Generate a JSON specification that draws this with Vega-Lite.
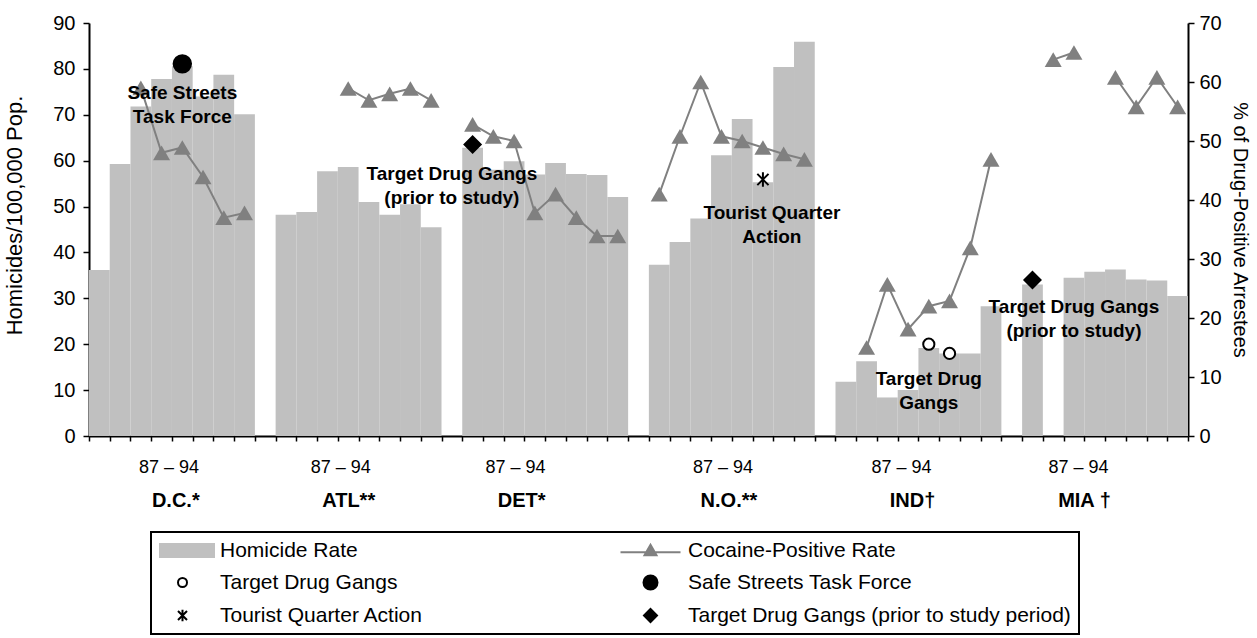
{
  "$schema": "https://vega.github.io/schema/vega-lite/v6.json",
  "width": 1099,
  "height": 413,
  "padding": {"left": 3, "top": 13, "right": 0, "bottom": 0},
  "config": {
    "font": "Liberation Sans",
    "view": {"stroke": null},
    "axis": {"domainColor": "black", "domainWidth": 2, "tickColor": "black", "tickWidth": 1.5, "labelColor": "black", "titleColor": "black", "grid": false},
    "legend": {
      "direction": "horizontal",
      "columns": 2,
      "columnPadding": 192,
      "rowPadding": 10,
      "symbolSize": 100,
      "symbolStrokeWidth": 2,
      "symbolOffset": 13,
      "labelFontSize": 21,
      "labelColor": "black",
      "labelOffset": 27,
      "labelLimit": 600,
      "padding": 8,
      "strokeColor": "black",
      "strokeWidth": 2,
      "fillColor": "white"
    }
  },
  "datasets": {
    "homicide": [
      {"slot": "DC87", "homicide": 36.2}, {"slot": "DC88", "homicide": 59.3}, {"slot": "DC89", "homicide": 71.8}, {"slot": "DC90", "homicide": 77.8},
      {"slot": "DC91", "homicide": 80.6}, {"slot": "DC92", "homicide": 74.0}, {"slot": "DC93", "homicide": 78.7}, {"slot": "DC94", "homicide": 70.1},
      {"slot": "ATL87", "homicide": 48.2}, {"slot": "ATL88", "homicide": 48.8}, {"slot": "ATL89", "homicide": 57.7}, {"slot": "ATL90", "homicide": 58.6},
      {"slot": "ATL91", "homicide": 51.0}, {"slot": "ATL92", "homicide": 48.2}, {"slot": "ATL93", "homicide": 50.5}, {"slot": "ATL94", "homicide": 45.5},
      {"slot": "DET87", "homicide": 62.8}, {"slot": "DET88", "homicide": 58.0}, {"slot": "DET89", "homicide": 59.9}, {"slot": "DET90", "homicide": 57.0},
      {"slot": "DET91", "homicide": 59.5}, {"slot": "DET92", "homicide": 57.1}, {"slot": "DET93", "homicide": 56.9}, {"slot": "DET94", "homicide": 52.1},
      {"slot": "NO87", "homicide": 37.3}, {"slot": "NO88", "homicide": 42.3}, {"slot": "NO89", "homicide": 47.4}, {"slot": "NO90", "homicide": 61.2},
      {"slot": "NO91", "homicide": 69.1}, {"slot": "NO92", "homicide": 55.3}, {"slot": "NO93", "homicide": 80.4}, {"slot": "NO94", "homicide": 85.9},
      {"slot": "IND87", "homicide": 11.8}, {"slot": "IND88", "homicide": 16.3}, {"slot": "IND89", "homicide": 8.4}, {"slot": "IND90", "homicide": 10.0},
      {"slot": "IND91", "homicide": 19.2}, {"slot": "IND92", "homicide": 18.0}, {"slot": "IND93", "homicide": 18.0}, {"slot": "IND94", "homicide": 28.3},
      {"slot": "MIA87", "homicide": 33.0}, {"slot": "MIA89", "homicide": 34.5}, {"slot": "MIA90", "homicide": 35.8},
      {"slot": "MIA91", "homicide": 36.3}, {"slot": "MIA92", "homicide": 34.1}, {"slot": "MIA93", "homicide": 33.9}, {"slot": "MIA94", "homicide": 30.5}
    ],
    "cocaine": [
      {"slot": "DC89", "seg": "DC", "year": 89, "cocaine": 59.0}, {"slot": "DC90", "seg": "DC", "year": 90, "cocaine": 48.0},
      {"slot": "DC91", "seg": "DC", "year": 91, "cocaine": 48.9}, {"slot": "DC92", "seg": "DC", "year": 92, "cocaine": 43.9},
      {"slot": "DC93", "seg": "DC", "year": 93, "cocaine": 37.0}, {"slot": "DC94", "seg": "DC", "year": 94, "cocaine": 37.8},
      {"slot": "ATL90", "seg": "ATL", "year": 90, "cocaine": 58.9}, {"slot": "ATL91", "seg": "ATL", "year": 91, "cocaine": 56.9},
      {"slot": "ATL92", "seg": "ATL", "year": 92, "cocaine": 58.0}, {"slot": "ATL93", "seg": "ATL", "year": 93, "cocaine": 58.9},
      {"slot": "ATL94", "seg": "ATL", "year": 94, "cocaine": 56.9},
      {"slot": "DET87", "seg": "DET", "year": 87, "cocaine": 52.8}, {"slot": "DET88", "seg": "DET", "year": 88, "cocaine": 50.8},
      {"slot": "DET89", "seg": "DET", "year": 89, "cocaine": 50.0}, {"slot": "DET90", "seg": "DET", "year": 90, "cocaine": 37.8},
      {"slot": "DET91", "seg": "DET", "year": 91, "cocaine": 41.0}, {"slot": "DET92", "seg": "DET", "year": 92, "cocaine": 37.0},
      {"slot": "DET93", "seg": "DET", "year": 93, "cocaine": 33.9}, {"slot": "DET94", "seg": "DET", "year": 94, "cocaine": 33.9},
      {"slot": "NO87", "seg": "NO", "year": 87, "cocaine": 41.0}, {"slot": "NO88", "seg": "NO", "year": 88, "cocaine": 50.8},
      {"slot": "NO89", "seg": "NO", "year": 89, "cocaine": 60.0}, {"slot": "NO90", "seg": "NO", "year": 90, "cocaine": 50.8},
      {"slot": "NO91", "seg": "NO", "year": 91, "cocaine": 50.0}, {"slot": "NO92", "seg": "NO", "year": 92, "cocaine": 48.9},
      {"slot": "NO93", "seg": "NO", "year": 93, "cocaine": 47.8}, {"slot": "NO94", "seg": "NO", "year": 94, "cocaine": 46.9},
      {"slot": "IND88", "seg": "IND", "year": 88, "cocaine": 15.0}, {"slot": "IND89", "seg": "IND", "year": 89, "cocaine": 25.7},
      {"slot": "IND90", "seg": "IND", "year": 90, "cocaine": 18.1}, {"slot": "IND91", "seg": "IND", "year": 91, "cocaine": 22.0},
      {"slot": "IND92", "seg": "IND", "year": 92, "cocaine": 22.9}, {"slot": "IND93", "seg": "IND", "year": 93, "cocaine": 31.9},
      {"slot": "IND94", "seg": "IND", "year": 94, "cocaine": 46.9},
      {"slot": "MIA88", "seg": "MIA-a", "year": 88, "cocaine": 63.8}, {"slot": "MIA89", "seg": "MIA-a", "year": 89, "cocaine": 65.0},
      {"slot": "MIA91", "seg": "MIA-b", "year": 91, "cocaine": 60.8}, {"slot": "MIA92", "seg": "MIA-b", "year": 92, "cocaine": 55.8},
      {"slot": "MIA93", "seg": "MIA-b", "year": 93, "cocaine": 60.8}, {"slot": "MIA94", "seg": "MIA-b", "year": 94, "cocaine": 55.8}
    ],
    "markers": [
      {"slot": "DC91", "type": "Safe Streets Task Force", "value": 81.1},
      {"slot": "DET87", "type": "Target Drug Gangs (prior to study period)", "value": 63.5},
      {"slot": "NO92", "type": "Tourist Quarter Action", "value": 55.9},
      {"slot": "IND91", "type": "Target Drug Gangs", "value": 20.0},
      {"slot": "IND92", "type": "Target Drug Gangs", "value": 18.0},
      {"slot": "MIA87", "type": "Target Drug Gangs (prior to study period)", "value": 34.0}
    ],
    "notes": [
      {"slot": "DC91", "value": 74.7, "label": "Safe Streets\nTask Force"},
      {"slot": "g2", "value": 57.1, "label": "Target Drug Gangs\n(prior to study)"},
      {"slot": "IND91", "value": 12.5, "label": "Target Drug\nGangs"},
      {"slot": "MIA89", "value": 28.1, "label": "Target Drug Gangs\n(prior to study)"}
    ],
    "notesShifted": [
      {"slot": "NO92", "value": 48.6, "label": "Tourist Quarter\nAction"}
    ]
  },
  "layer": [
    {
      "layer": [
        {
          "data": {"name": "homicide"},
          "mark": {"type": "bar", "color": "#C0C0C0"},
          "encoding": {
            "x": {
              "field": "slot", "type": "nominal",
              "scale": {"domain": ["DC87","DC88","DC89","DC90","DC91","DC92","DC93","DC94","g1","ATL87","ATL88","ATL89","ATL90","ATL91","ATL92","ATL93","ATL94","g2","DET87","DET88","DET89","DET90","DET91","DET92","DET93","DET94","g3","NO87","NO88","NO89","NO90","NO91","NO92","NO93","NO94","g4","IND87","IND88","IND89","IND90","IND91","IND92","IND93","IND94","g5","MIA87","MIA88","MIA89","MIA90","MIA91","MIA92","MIA93","MIA94"], "paddingInner": 0, "paddingOuter": 0},
              "axis": {
                "orient": "bottom", "title": null, "tickBand": "extent", "tickSize": 5, "labelAngle": 0,
                "labelFontSize": 18, "labelPadding": 17, "labelOverlap": false, "labelBound": false,
                "labelExpr": "indexof(['DC90','ATL90','DET89','NO90','IND90','MIA89'], datum.value) >= 0 ? '87 – 94' : ''",
                "labelOffset": {"condition": [
                  {"test": "datum.value == 'DC90'", "value": 7},
                  {"test": "datum.value == 'ATL90'", "value": -8},
                  {"test": "datum.value == 'IND90'", "value": -7},
                  {"test": "datum.value == 'MIA89'", "value": 4}
                ], "value": 1}
              }
            },
            "y": {
              "field": "homicide", "type": "quantitative",
              "scale": {"domain": [0, 90], "nice": false},
              "axis": {"orient": "left", "values": [0,10,20,30,40,50,60,70,80,90], "tickSize": 6, "labelPadding": 8, "labelFontSize": 20, "title": "Homicides/100,000 Pop.", "titleFontSize": 22, "titleFontWeight": "normal", "titlePadding": 26, "titleY": 192}
            }
          }
        },
        {
          "data": {"name": "markers"},
          "mark": {"type": "point", "size": 155, "strokeWidth": 2, "opacity": 1, "filled": false},
          "encoding": {
            "x": {"field": "slot", "type": "nominal"},
            "y": {"field": "value", "type": "quantitative"},
            "shape": {
              "field": "type", "type": "nominal",
              "scale": {
                "domain": ["Homicide Rate", "Cocaine-Positive Rate", "Target Drug Gangs", "Safe Streets Task Force", "Tourist Quarter Action", "Target Drug Gangs (prior to study period)"],
                "range": ["M-4.5,-1.3H6.3V1.3H-4.5Z", "M-6,0.3H6M0,-1.2L1.2,0.9L-1.2,0.9Z", "M0.9,0A0.9,0.9,0,1,1,-0.9,0A0.9,0.9,0,1,1,0.9,0Z", "M1.4,0A1.4,1.4,0,1,1,-1.4,0A1.4,1.4,0,1,1,1.4,0Z", "M-0.9,-0.9L0.9,0.9M-0.9,0.9L0.9,-0.9M0,-1.15V1.15", "M0,-1.3L1.3,0L0,1.3L-1.3,0Z"]
              },
              "legend": {"title": null, "orient": "none", "legendX": 62, "legendY": 509}
            },
            "fill": {
              "field": "type", "type": "nominal",
              "scale": {
                "domain": ["Homicide Rate", "Cocaine-Positive Rate", "Target Drug Gangs", "Safe Streets Task Force", "Tourist Quarter Action", "Target Drug Gangs (prior to study period)"],
                "range": ["#C0C0C0", "#808080", "white", "black", "black", "black"]
              },
              "legend": {"title": null, "orient": "none", "legendX": 62, "legendY": 509}
            },
            "stroke": {
              "field": "type", "type": "nominal",
              "scale": {
                "domain": ["Homicide Rate", "Cocaine-Positive Rate", "Target Drug Gangs", "Safe Streets Task Force", "Tourist Quarter Action", "Target Drug Gangs (prior to study period)"],
                "range": ["#C0C0C0", "#808080", "black", "black", "black", "black"]
              },
              "legend": {"title": null, "orient": "none", "legendX": 62, "legendY": 509}
            }
          }
        }
      ]
    },
    {
      "data": {"name": "cocaine"},
      "layer": [
        {
          "mark": {"type": "line", "color": "#808080", "strokeWidth": 2},
          "encoding": {
            "x": {
              "field": "slot", "type": "nominal",
              "scale": {"domain": ["DC87","DC88","DC89","DC90","DC91","DC92","DC93","DC94","g1","ATL87","ATL88","ATL89","ATL90","ATL91","ATL92","ATL93","ATL94","g2","DET87","DET88","DET89","DET90","DET91","DET92","DET93","DET94","g3","NO87","NO88","NO89","NO90","NO91","NO92","NO93","NO94","g4","IND87","IND88","IND89","IND90","IND91","IND92","IND93","IND94","g5","MIA87","MIA88","MIA89","MIA90","MIA91","MIA92","MIA93","MIA94"], "paddingInner": 0, "paddingOuter": 0},
              "axis": {
                "orient": "bottom", "title": null, "ticks": false, "tickSize": 0, "domain": false, "labelAngle": 0,
                "labelFontSize": 20, "labelFontWeight": "bold", "labelPadding": 54, "labelOverlap": false, "labelBound": false,
                "labelExpr": "datum.value == 'DC91' ? 'D.C.*' : datum.value == 'ATL90' ? 'ATL**' : datum.value == 'DET89' ? 'DET*' : datum.value == 'NO90' ? 'N.O.**' : datum.value == 'IND90' ? 'IND†' : datum.value == 'MIA89' ? 'MIA †' : ''",
                "labelOffset": {"condition": [
                  {"test": "datum.value == 'DC91'", "value": -7},
                  {"test": "datum.value == 'ATL90'", "value": 0},
                  {"test": "datum.value == 'IND90'", "value": 4},
                  {"test": "datum.value == 'MIA89'", "value": 10}
                ], "value": 7}
              }
            },
            "y": {
              "field": "cocaine", "type": "quantitative",
              "scale": {"domain": [0, 70], "nice": false},
              "axis": {"orient": "right", "values": [0,10,20,30,40,50,60,70], "tickSize": 6, "labelPadding": 5, "labelFontSize": 20, "title": "% of Drug-Positive Arrestees", "titleFontSize": 20, "titleFontWeight": "normal", "titlePadding": 8}
            },
            "detail": {"field": "seg", "type": "nominal"},
            "order": {"field": "year", "type": "quantitative"}
          }
        },
        {
          "mark": {"type": "point", "shape": "M0,-0.866L1,0.866L-1,0.866Z", "size": 289, "filled": true, "color": "#808080", "opacity": 1},
          "encoding": {
            "x": {"field": "slot", "type": "nominal"},
            "y": {"field": "cocaine", "type": "quantitative"}
          }
        }
      ]
    },
    {
      "layer": [
        {
          "data": {"name": "notes"},
          "mark": {"type": "text", "fontSize": 19, "fontWeight": "bold", "lineBreak": "\n", "lineHeight": 24, "align": "center", "baseline": "middle", "color": "black"},
          "encoding": {
            "x": {
              "field": "slot", "type": "nominal",
              "scale": {"domain": ["DC87","DC88","DC89","DC90","DC91","DC92","DC93","DC94","g1","ATL87","ATL88","ATL89","ATL90","ATL91","ATL92","ATL93","ATL94","g2","DET87","DET88","DET89","DET90","DET91","DET92","DET93","DET94","g3","NO87","NO88","NO89","NO90","NO91","NO92","NO93","NO94","g4","IND87","IND88","IND89","IND90","IND91","IND92","IND93","IND94","g5","MIA87","MIA88","MIA89","MIA90","MIA91","MIA92","MIA93","MIA94"], "paddingInner": 0, "paddingOuter": 0},
              "axis": null
            },
            "y": {"field": "value", "type": "quantitative", "scale": {"domain": [0, 90], "nice": false}, "axis": null},
            "text": {"field": "label"}
          }
        },
        {
          "data": {"name": "notesShifted"},
          "mark": {"type": "text", "fontSize": 19, "fontWeight": "bold", "lineBreak": "\n", "lineHeight": 24, "align": "center", "baseline": "middle", "color": "black", "dx": 9},
          "encoding": {
            "x": {"field": "slot", "type": "nominal"},
            "y": {"field": "value", "type": "quantitative"},
            "text": {"field": "label"}
          }
        }
      ]
    }
  ],
  "resolve": {"scale": {"x": "independent", "y": "independent"}}
}
